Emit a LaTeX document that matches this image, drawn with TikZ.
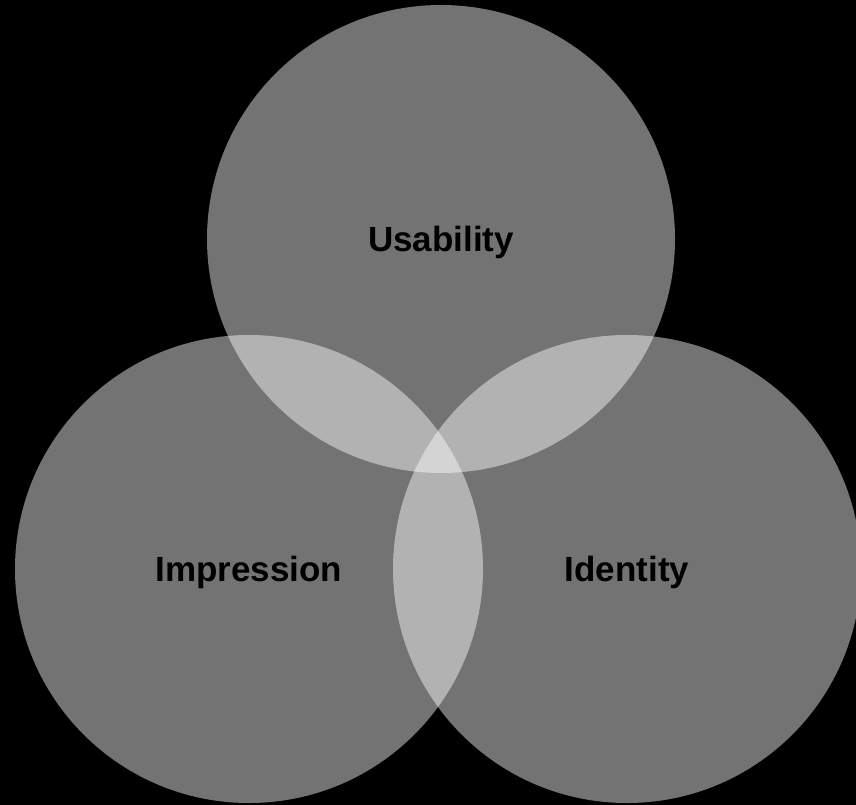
\documentclass[tikz,border=0pt]{standalone}
\usepackage{fontspec}
\setmainfont{Liberation Sans}
\tikzset{
    setcircle/.style={circle, minimum size=468pt, inner sep=0pt,
        fill=white, fill opacity=0.45, text opacity=1, text depth=0pt,
        font=\bfseries\fontsize{35}{42}\selectfont, text=black}
}
\begin{document}
\begin{tikzpicture}[x=1pt,y=-1pt]
    \useasboundingbox (0,0) rectangle (856,805);
    \clip (0,0) rectangle (856,805);
    \fill[black] (0,0) rectangle (856,805);
    % the three sets
    \node (usability) [setcircle] at (441,239) {Usability};
    \node (impression) [setcircle] at (249,569) {Impression};
    \node (identity) [setcircle] at (627,569) {Identity};
\end{tikzpicture}
\end{document}
